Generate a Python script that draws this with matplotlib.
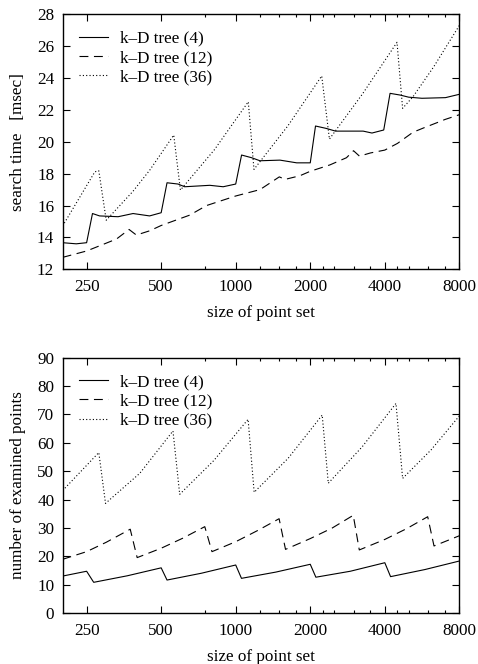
import matplotlib
matplotlib.use("Agg")
import matplotlib.pyplot as plt
from matplotlib.ticker import FixedLocator, NullFormatter

plt.rcParams['font.family'] = ['Liberation Serif', 'DejaVu Serif']
plt.rcParams['font.size'] = 12.3

# --- search time [msec] (top panel)
t4_x = [200, 227, 250, 264, 282, 335, 385, 449, 500, 528, 585, 622, 786, 890, 1000,
        1056, 1160, 1253, 1509, 1763, 2000, 2100, 2320, 2530, 3270, 3550, 3960,
        4200, 4620, 4990, 5650, 7030, 8000]
t4_y = [13.67, 13.6, 13.67, 15.5, 15.35, 15.3, 15.5, 15.35, 15.55, 17.43, 17.35, 17.18, 17.27, 17.18, 17.35,
        19.17, 19.0, 18.81, 18.85, 18.68, 18.68, 20.99, 20.84, 20.67, 20.67, 20.55, 20.74,
        23.04, 22.93, 22.8, 22.73, 22.77, 22.98]

t12_x = [200, 250, 290, 330, 371, 397, 450, 500, 652, 762, 1000, 1253, 1500, 1581, 1816, 2000,
         2400, 2800, 2990, 3160, 3500, 4000, 4500, 5200, 5800, 6500, 7000, 8000]
t12_y = [12.75, 13.15, 13.55, 13.9, 14.5, 14.15, 14.42, 14.75, 15.4, 16.0, 16.6, 17.0, 17.8, 17.64, 17.87, 18.15,
         18.55, 19.0, 19.44, 19.1, 19.3, 19.48, 19.9, 20.6, 20.9, 21.2, 21.4, 21.7]

t36_x = [200, 270, 280, 300, 385, 450, 562, 598, 820, 1124, 1185, 1624, 2225, 2390, 3250,
         4480, 4720, 5200, 6300, 8000]
t36_y = [14.72, 18.12, 18.18, 15.08, 16.9, 18.23, 20.42, 16.97, 19.5, 22.51, 18.27, 21.0, 24.13, 20.17, 23.0,
         26.24, 22.1, 22.83, 24.7, 27.3]

# --- number of examined points (bottom panel)
b4_x = [200, 250, 267, 365, 500, 528, 727, 1000, 1055, 1452, 2000, 2107, 2903, 4000, 4220, 5810, 8000]
b4_y = [13.1, 14.8, 10.9, 13.2, 16.0, 11.7, 14.1, 17.0, 12.3, 14.5, 17.25, 12.7, 14.8, 17.8, 12.9, 15.4, 18.4]

b12_x = [200, 250, 300, 375, 400, 500, 610, 750, 802, 1000, 1230, 1497, 1589, 2000, 2450, 2983,
         3155, 4000, 4900, 5960, 6320, 8000]
b12_y = [19.0, 21.7, 25.0, 29.6, 19.6, 22.9, 26.4, 30.5, 21.7, 25.2, 29.2, 33.3, 22.5, 26.3, 30.0, 34.5,
         22.3, 26.0, 29.8, 34.0, 23.7, 27.3]

b36_x = [200, 280, 298, 410, 558, 594, 816, 1122, 1187, 1629, 2235, 2365, 3240, 4438, 4720, 6145, 8000]
b36_y = [43.2, 56.6, 38.7, 49.3, 64.2, 41.9, 53.8, 68.3, 42.6, 54.6, 69.8, 45.8, 58.6, 73.9, 47.5, 57.5, 69.5]

labels = ["k\u2013D tree (4)", "k\u2013D tree (12)", "k\u2013D tree (36)"]
xticks = [250, 500, 1000, 2000, 4000, 8000]
xminor = [750, 1250, 1500, 1750, 2250, 2500, 3000, 3500, 4500, 5000, 6000, 7000]

styles = ['-', (0, (8, 5)), (0, (1, 2))]

fig = plt.figure(figsize=(4.78, 6.64), dpi=100)
ax1 = fig.add_axes([0.131, 0.5944, 0.830, 0.3841])
ax2 = fig.add_axes([0.131, 0.0764, 0.830, 0.3849])


def style_axis(ax, ylim, yticks, ylabel):
    ax.set_xscale('log', base=2)
    ax.set_xlim(200, 8000)
    ax.set_ylim(*ylim)
    ax.xaxis.set_major_locator(FixedLocator(xticks))
    ax.set_xticklabels([str(t) for t in xticks])
    ax.xaxis.set_minor_locator(FixedLocator(xminor))
    ax.xaxis.set_minor_formatter(NullFormatter())
    ax.set_yticks(yticks)
    ax.tick_params(which='both', direction='in', top=True, right=True, width=0.8)
    ax.tick_params(which='major', length=5)
    ax.tick_params(which='minor', length=2.5)
    ax.tick_params(axis='x', which='both', pad=7)
    ax.tick_params(axis='y', pad=6)
    for s in ax.spines.values():
        s.set_linewidth(1.0)
    ax.set_xlabel("size of point set", labelpad=7)
    ax.set_ylabel(ylabel, labelpad=8)
    ax.legend(loc='upper left', frameon=False, handlelength=1.7, handletextpad=0.7,
              labelspacing=0.2, borderaxespad=0.45, borderpad=0.5, fontsize=12.3)


for xs, ys, ls, lab in zip([t4_x, t12_x, t36_x], [t4_y, t12_y, t36_y], styles, labels):
    ax1.plot(xs, ys, color='black', linestyle=ls, linewidth=0.8, label=lab)
style_axis(ax1, (12, 28), range(12, 29, 2), "search time   [msec]")

for xs, ys, ls, lab in zip([b4_x, b12_x, b36_x], [b4_y, b12_y, b36_y], styles, labels):
    ax2.plot(xs, ys, color='black', linestyle=ls, linewidth=0.8, label=lab)
style_axis(ax2, (0, 90), range(0, 91, 10), "number of examined points")

fig.savefig("out.png", dpi=100)
